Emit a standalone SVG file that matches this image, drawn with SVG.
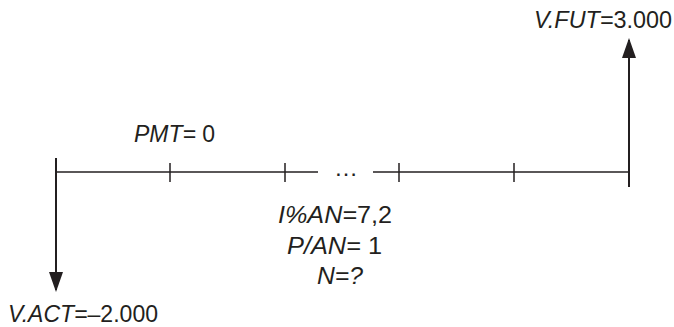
<svg xmlns="http://www.w3.org/2000/svg" width="674" height="327" viewBox="0 0 674 327">
<style>
.ln{stroke:#231f20;stroke-width:1.5;fill:none}
.ar{stroke:#231f20;stroke-width:2;fill:none}
.t{font-family:"Liberation Sans",Arial,sans-serif;font-size:24px;fill:#231f20}
.i{font-style:italic}
</style>
<defs>
<marker id="ah" viewBox="0 0 20 14" refX="18" refY="7" markerWidth="20" markerHeight="14" markerUnits="userSpaceOnUse" orient="auto">
<path d="M0,0 L20,7 L0,14 Z" fill="#231f20"/>
</marker>
</defs>
<g id="connectors">
<line class="ln" x1="55" y1="172" x2="318" y2="172"/>
<line class="ln" x1="373" y1="172" x2="630" y2="172"/>
<line class="ln" x1="170" y1="163" x2="170" y2="182"/>
<line class="ln" x1="285" y1="163" x2="285" y2="182"/>
<line class="ln" x1="399" y1="163" x2="399" y2="182"/>
<line class="ln" x1="514" y1="163" x2="514" y2="182"/>
<line class="ar" x1="56" y1="158" x2="56" y2="290" marker-end="url(#ah)"/>
<line class="ar" x1="629" y1="187" x2="629" y2="40" marker-end="url(#ah)"/>
</g>
<g id="dots"><text class="t" x="346" y="176" text-anchor="middle">…</text></g>
<g id="vfut"><text class="t" x="534" y="28" textLength="138" lengthAdjust="spacingAndGlyphs"><tspan class="i">V.FUT=</tspan>3.000</text></g>
<g id="pmt"><text class="t" x="134" y="142" style="font-size:23px"><tspan class="i">PMT=</tspan> 0</text></g>
<g id="vact"><text class="t" x="8" y="322" textLength="150" lengthAdjust="spacingAndGlyphs"><tspan class="i">V.ACT=</tspan>–2.000</text></g>
<g id="ian"><text class="t" x="278" y="223" textLength="114" lengthAdjust="spacingAndGlyphs"><tspan class="i">I%AN=</tspan>7,2</text></g>
<g id="pan"><text class="t" x="287" y="254" textLength="95" lengthAdjust="spacingAndGlyphs"><tspan class="i">P/AN=</tspan> 1</text></g>
<g id="n"><text class="t i" x="317" y="284" textLength="46" lengthAdjust="spacingAndGlyphs">N=?</text></g>
</svg>
